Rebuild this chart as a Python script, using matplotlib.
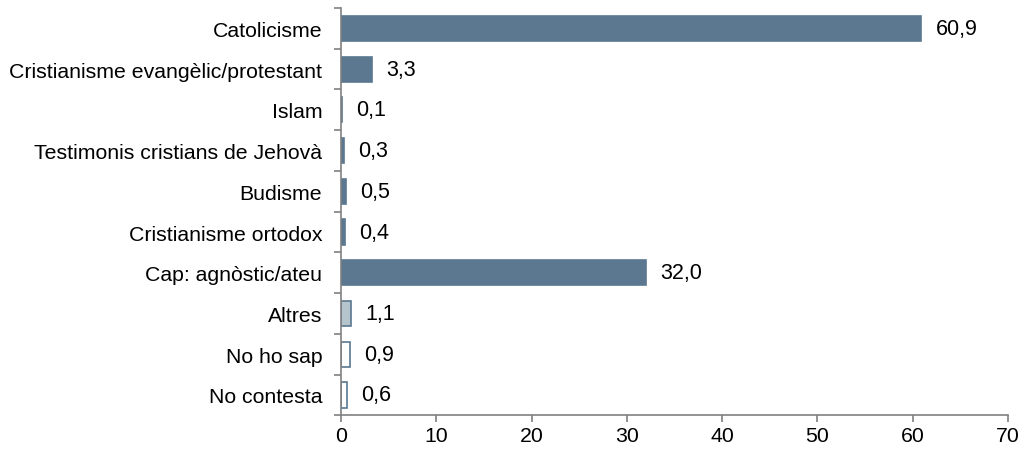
import matplotlib.pyplot as plt
from matplotlib.ticker import FixedLocator

plt.rcParams["font.family"] = ["Liberation Sans", "DejaVu Sans"]

categories = [
    "Catolicisme",
    "Cristianisme evangèlic/protestant",
    "Islam",
    "Testimonis cristians de Jehovà",
    "Budisme",
    "Cristianisme ortodox",
    "Cap: agnòstic/ateu",
    "Altres",
    "No ho sap",
    "No contesta",
]
values = [60.9, 3.3, 0.1, 0.3, 0.5, 0.4, 32.0, 1.1, 0.9, 0.6]

dark = "#5b7890"
fills = [dark] * 7 + ["#b5c4cd", "white", "white"]

fig = plt.figure(figsize=(10.27, 4.52), dpi=100)
ax = fig.add_axes([0.332, 0.079, 0.6495, 0.901])

pos = list(range(len(categories)))
ax.barh(pos, values, height=0.62, color=fills, edgecolor=dark, linewidth=1.2)

for p, v in zip(pos, values):
    ax.text(v + 1.5, p, f"{v:.1f}".replace(".", ","), va="center", ha="left", fontsize=15.5)

ax.set_xlim(0, 70)
ax.set_ylim(len(categories) - 0.5, -0.5)
ax.set_xticks(range(0, 71, 10))
ax.set_yticks(pos)
ax.set_yticklabels(categories, fontsize=15.3)
ax.tick_params(axis="y", which="major", length=0, pad=13.5)
ax.yaxis.set_minor_locator(FixedLocator([p - 0.5 for p in range(len(categories) + 1)]))
ax.tick_params(axis="y", which="minor", length=5, color="#808080", width=1.2)
ax.tick_params(axis="x", length=5, color="#808080", width=1.2, labelsize=15.3, pad=3)

for side in ["top", "right"]:
    ax.spines[side].set_visible(False)
for side in ["left", "bottom"]:
    ax.spines[side].set_color("#808080")
    ax.spines[side].set_linewidth(1.2)

fig.savefig("out.png", dpi=100)
